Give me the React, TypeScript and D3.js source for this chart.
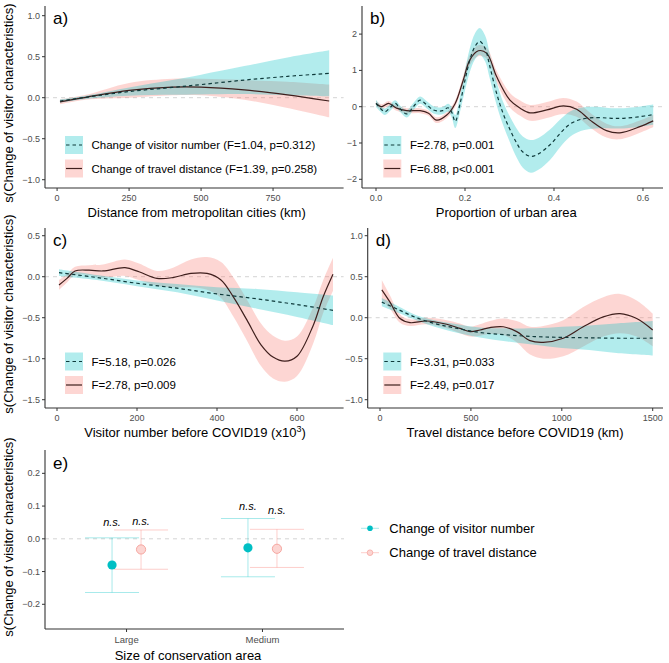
import React from 'react';
import * as d3 from 'd3';

const TEAL = '#00BFC4';
const PINK = '#F8766D';
const TEAL_LINE = '#0f3a3b';
const PINK_LINE = '#3f1f1d';

// ---- panel a: distance from metropolitan cities (km)
const aVisitorX = [10, 100, 250, 400, 500, 650, 800, 945];
const aVisitorFit = [-0.04, 0.005, 0.075, 0.125, 0.16, 0.215, 0.26, 0.297];
const aVisitorSe = [0.02, 0.02, 0.05, 0.09, 0.12, 0.17, 0.23, 0.28];
const aTravelX = [10, 100, 250, 400, 500, 650, 800, 945];
const aTravelFit = [-0.05, 0.005, 0.09, 0.13, 0.13, 0.095, 0.035, -0.04];
const aTravelSe = [0.03, 0.03, 0.09, 0.1, 0.1, 0.12, 0.16, 0.2];

// ---- panel b: proportion of urban area
const bVisitorX = [0.0, 0.01, 0.02, 0.032, 0.043, 0.056, 0.069, 0.084, 0.099, 0.114, 0.129, 0.14, 0.15, 0.162, 0.17, 0.178, 0.189, 0.2, 0.211, 0.222, 0.233, 0.245, 0.256, 0.271, 0.286, 0.3, 0.316, 0.33, 0.348, 0.365, 0.391, 0.415, 0.436, 0.46, 0.496, 0.53, 0.556, 0.59, 0.623];
const bVisitorFit = [0.09, -0.05, -0.14, -0.02, 0.09, -0.08, -0.2, 0.0, 0.18, 0.05, -0.09, -0.12, -0.11, -0.03, -0.15, -0.41, 0.09, 0.73, 1.29, 1.65, 1.8, 1.61, 1.1, 0.37, -0.2, -0.6, -1.0, -1.25, -1.37, -1.3, -1.05, -0.72, -0.48, -0.35, -0.3, -0.32, -0.32, -0.28, -0.22];
const bVisitorSe = [0.1, 0.09, 0.09, 0.09, 0.09, 0.09, 0.1, 0.1, 0.1, 0.1, 0.1, 0.1, 0.1, 0.11, 0.14, 0.18, 0.22, 0.28, 0.33, 0.36, 0.37, 0.36, 0.34, 0.32, 0.32, 0.35, 0.4, 0.43, 0.45, 0.44, 0.42, 0.38, 0.35, 0.32, 0.3, 0.28, 0.28, 0.28, 0.28];
const bTravelX = [0.0, 0.013, 0.028, 0.046, 0.069, 0.099, 0.118, 0.136, 0.159, 0.178, 0.196, 0.211, 0.23, 0.249, 0.271, 0.301, 0.324, 0.346, 0.384, 0.421, 0.451, 0.481, 0.518, 0.548, 0.593, 0.623];
const bTravelFit = [0.09, 0.0, 0.09, -0.04, -0.11, -0.11, -0.18, -0.37, -0.23, 0.09, 0.73, 1.29, 1.54, 1.47, 0.83, 0.18, -0.04, -0.17, -0.09, 0.02, -0.07, -0.37, -0.66, -0.72, -0.55, -0.39];
const bTravelSe = [0.07, 0.07, 0.07, 0.07, 0.07, 0.07, 0.07, 0.08, 0.08, 0.09, 0.12, 0.14, 0.15, 0.15, 0.16, 0.2, 0.21, 0.22, 0.22, 0.22, 0.21, 0.2, 0.19, 0.18, 0.17, 0.17];

// ---- panel c: visitor number before COVID19 (x10^3)
const cVisitorX = [5, 100, 200, 300, 400, 500, 600, 690];
const cVisitorFit = [0.05, -0.01, -0.08, -0.14, -0.21, -0.27, -0.34, -0.41];
const cVisitorSe = [0.04, 0.03, 0.035, 0.05, 0.08, 0.12, 0.15, 0.18];
const cTravelX = [5, 25, 45, 80, 115, 170, 205, 250, 290, 335, 375, 410, 440, 475, 510, 540, 570, 600, 640, 665, 690];
const cTravelFit = [-0.1, -0.02, 0.07, 0.08, 0.07, 0.11, 0.06, -0.02, -0.01, 0.04, 0.04, -0.04, -0.24, -0.53, -0.83, -0.98, -1.03, -0.97, -0.6, -0.25, 0.03];
const cTravelSe = [0.06, 0.05, 0.05, 0.06, 0.08, 0.1, 0.1, 0.09, 0.12, 0.17, 0.2, 0.22, 0.24, 0.25, 0.26, 0.26, 0.25, 0.24, 0.22, 0.2, 0.2];

// ---- panel d: travel distance before COVID19 (km)
const dVisitorX = [10, 100, 200, 300, 400, 550, 700, 850, 1000, 1150, 1300, 1500];
const dVisitorFit = [0.19, 0.1, 0.0, -0.07, -0.12, -0.18, -0.21, -0.23, -0.24, -0.245, -0.25, -0.25];
const dVisitorSe = [0.05, 0.04, 0.03, 0.04, 0.05, 0.06, 0.08, 0.1, 0.13, 0.15, 0.18, 0.21];
const dTravelX = [10, 55, 110, 165, 257, 367, 440, 495, 550, 605, 678, 752, 825, 898, 1008, 1118, 1228, 1320, 1412, 1500];
const dTravelFit = [0.34, 0.19, -0.01, -0.06, -0.04, -0.08, -0.13, -0.17, -0.15, -0.12, -0.11, -0.17, -0.28, -0.3, -0.25, -0.11, 0.01, 0.05, -0.01, -0.15];
const dTravelSe = [0.12, 0.08, 0.05, 0.04, 0.04, 0.05, 0.06, 0.06, 0.07, 0.08, 0.1, 0.13, 0.17, 0.2, 0.22, 0.24, 0.24, 0.24, 0.22, 0.2];

// ---- panel e: size of conservation area
const eCategories = ['Large', 'Medium'];
const eVisitorMean = [-0.08, -0.0275];
const eVisitorLow = [-0.164, -0.116];
const eVisitorHigh = [0.003, 0.062];
const eTravelMean = [-0.0325, -0.0305];
const eTravelLow = [-0.093, -0.0875];
const eTravelHigh = [0.027, 0.029];
const eVisitorNsY = [0.05, 0.1];
const eTravelNsY = [0.055, 0.089];

// ---- ticks and labels
const aXTicks = [0, 250, 500, 750];
const aYTicks = [-1, -0.5, 0, 0.5, 1];
const bXTicks = [0, 0.2, 0.4, 0.6];
const bYTicks = [-2, -1, 0, 1, 2];
const cXTicks = [0, 200, 400, 600];
const cYTicks = [-1.5, -1, -0.5, 0, 0.5];
const dXTicks = [0, 500, 1000, 1500];
const dYTicks = [-1, -0.5, 0, 0.5, 1];
const eYTicks = [-0.2, -0.1, 0, 0.1, 0.2];

const aLegend = ['Change of visitor number (F=1.04, p=0.312)', 'Change of travel distance (F=1.39, p=0.258)'];
const bLegend = ['F=2.78, p=0.001', 'F=6.88, p<0.001'];
const cLegend = ['F=5.18, p=0.026', 'F=2.78, p=0.009'];
const dLegend = ['F=3.31, p=0.033', 'F=2.49, p=0.017'];
const eLegend = ['Change of visitor number', 'Change of travel distance'];

const Y_TITLE = 's(Change of visitor characteristics)';
const FONT = '"Liberation Sans", Arial, Helvetica, sans-serif';
const AXIS = '#333333';
const TICK_TEXT = '#4d4d4d';

type Box = { x0: number; x1: number; y0: number; y1: number };
type Series = { x: number[]; fit: number[]; se: number[]; fill: string; stroke: string; dash?: string };

interface PanelProps {
  box: Box;
  xDomain: [number, number];
  yDomain: [number, number];
  xTicks: number[];
  yTicks: number[];
  xFmt: (v: number) => string;
  yFmt: (v: number) => string;
  series: Series[];
  tag: string;
  xTitle: React.ReactNode;
  xTitleX: number;
  yTitleY?: number;
  legend: string[];
  legendX: number;
  legendY: number;
  legendTextX: number;
}

function YTitle({ cy }: { cy: number }) {
  return (
    <text transform={`translate(12.5,${cy}) rotate(-90)`} textAnchor="middle" fontSize={13} fill="#000">
      {Y_TITLE}
    </text>
  );
}

function Panel(p: PanelProps) {
  const { box } = p;
  const xs = d3.scaleLinear().domain(p.xDomain).range([box.x0, box.x1]);
  const ys = d3.scaleLinear().domain(p.yDomain).range([box.y1, box.y0]);
  const curve = d3.curveCatmullRom.alpha(0.5);

  // ribbons: travel first, visitor on top
  const drawOrder = [1, 0];

  return (
    <g>
      <line x1={box.x0} x2={box.x1} y1={ys(0)} y2={ys(0)} stroke="#d4d4d4" strokeWidth={1} strokeDasharray="4,4" />
      {drawOrder.map((k) => {
        const s = p.series[k];
        const area = d3
          .area<number>()
          .x((_, i) => xs(s.x[i]))
          .y0((d, i) => ys(d - s.se[i]))
          .y1((d, i) => ys(d + s.se[i]))
          .curve(curve);
        return <path key={'r' + k} d={area(s.fit) || ''} fill={s.fill} fillOpacity={0.3} stroke="none" />;
      })}
      {drawOrder.map((k) => {
        const s = p.series[k];
        const line = d3
          .line<number>()
          .x((_, i) => xs(s.x[i]))
          .y((d) => ys(d))
          .curve(curve);
        return (
          <path key={'l' + k} d={line(s.fit) || ''} fill="none" stroke={s.stroke} strokeWidth={1.2} strokeDasharray={s.dash} />
        );
      })}

      {/* axes */}
      <line x1={box.x0} x2={box.x1} y1={box.y1} y2={box.y1} stroke={AXIS} strokeWidth={1.1} />
      <line x1={box.x0} x2={box.x0} y1={box.y0} y2={box.y1} stroke={AXIS} strokeWidth={1.1} />
      {p.xTicks.map((t) => (
        <g key={'xt' + t}>
          <line x1={xs(t)} x2={xs(t)} y1={box.y1} y2={box.y1 + 3} stroke={AXIS} strokeWidth={1} />
          <text x={xs(t)} y={box.y1 + 13} textAnchor="middle" fontSize={9} fill={TICK_TEXT}>
            {p.xFmt(t)}
          </text>
        </g>
      ))}
      {p.yTicks.map((t) => (
        <g key={'yt' + t}>
          <line x1={box.x0 - 3} x2={box.x0} y1={ys(t)} y2={ys(t)} stroke={AXIS} strokeWidth={1} />
          <text x={box.x0 - 5} y={ys(t)} textAnchor="end" dominantBaseline="central" fontSize={9} fill={TICK_TEXT}>
            {p.yFmt(t)}
          </text>
        </g>
      ))}

      <text x={box.x0 + 8} y={box.y0 + 17.5} fontSize={17} fill="#000">
        {p.tag}
      </text>

      <text x={p.xTitleX} y={box.y1 + 29} textAnchor="middle" fontSize={13} fill="#000">
        {p.xTitle}
      </text>
      {p.yTitleY !== undefined && <YTitle cy={p.yTitleY} />}

      {/* legend */}
      {p.legend.map((lab, k) => {
        const s = p.series[k];
        const ky = p.legendY + k * 23.5;
        return (
          <g key={'lg' + k}>
            <rect x={p.legendX} y={ky} width={18} height={18} fill={s.fill} fillOpacity={0.3} />
            <line x1={p.legendX + 1} x2={p.legendX + 17} y1={ky + 9} y2={ky + 9} stroke={s.stroke} strokeWidth={1.2} strokeDasharray={s.dash} />
            <text x={p.legendTextX} y={ky + 9} dominantBaseline="central" fontSize={11.5} fill="#000">
              {lab}
            </text>
          </g>
        );
      })}
    </g>
  );
}

function PanelE() {
  const box: Box = { x0: 45, x1: 344, y0: 450, y1: 629 };
  const xs = d3.scalePoint<string>().domain(eCategories).range([box.x0, box.x1]).padding(0.6);
  const ys = d3.scaleLinear().domain([-0.2755, 0.2713]).range([box.y1, box.y0]);
  const dodge = 14.5;
  const cap = 27;
  const groups = [
    { mean: eVisitorMean, low: eVisitorLow, high: eVisitorHigh, ns: eVisitorNsY, off: -dodge, color: TEAL },
    { mean: eTravelMean, low: eTravelLow, high: eTravelHigh, ns: eTravelNsY, off: dodge, color: PINK },
  ];
  return (
    <g>
      <line x1={box.x0} x2={box.x1} y1={ys(0)} y2={ys(0)} stroke="#d4d4d4" strokeWidth={1} strokeDasharray="4,4" />
      {groups.map((g, gi) =>
        eCategories.map((c, i) => {
          const cx = (xs(c) as number) + g.off;
          return (
            <g key={gi + c}>
              <line x1={cx} x2={cx} y1={ys(g.low[i])} y2={ys(g.high[i])} stroke={g.color} strokeOpacity={0.35} strokeWidth={1} />
              <line x1={cx - cap} x2={cx + cap} y1={ys(g.low[i])} y2={ys(g.low[i])} stroke={g.color} strokeOpacity={0.35} strokeWidth={1} />
              <line x1={cx - cap} x2={cx + cap} y1={ys(g.high[i])} y2={ys(g.high[i])} stroke={g.color} strokeOpacity={0.35} strokeWidth={1} />
              {gi === 0 ? (
                <circle cx={cx} cy={ys(g.mean[i])} r={4.6} fill={TEAL} />
              ) : (
                <circle cx={cx} cy={ys(g.mean[i])} r={4.6} fill="#FCD5D2" stroke="#F6A7A1" strokeWidth={1} />
              )}
              <text x={cx} y={ys(g.ns[i])} textAnchor="middle" dominantBaseline="central" fontSize={11} fontStyle="italic" fill="#000">
                n.s.
              </text>
            </g>
          );
        })
      )}
      <line x1={box.x0} x2={box.x1} y1={box.y1} y2={box.y1} stroke={AXIS} strokeWidth={1.1} />
      <line x1={box.x0} x2={box.x0} y1={box.y0} y2={box.y1} stroke={AXIS} strokeWidth={1.1} />
      {eCategories.map((c) => (
        <g key={'xe' + c}>
          <line x1={xs(c)} x2={xs(c)} y1={box.y1} y2={box.y1 + 3} stroke={AXIS} strokeWidth={1} />
          <text x={xs(c)} y={box.y1 + 14} textAnchor="middle" fontSize={9.5} fill={TICK_TEXT}>
            {c}
          </text>
        </g>
      ))}
      {eYTicks.map((t) => (
        <g key={'ye' + t}>
          <line x1={box.x0 - 3} x2={box.x0} y1={ys(t)} y2={ys(t)} stroke={AXIS} strokeWidth={1} />
          <text x={box.x0 - 5} y={ys(t)} textAnchor="end" dominantBaseline="central" fontSize={9} fill={TICK_TEXT}>
            {d3.format('.1f')(t)}
          </text>
        </g>
      ))}
      <text x={box.x0 + 8} y={box.y0 + 19} fontSize={17} fill="#000">
        e)
      </text>
      <text x={188} y={660} textAnchor="middle" fontSize={13} fill="#000">
        Size of conservation area
      </text>
      <YTitle cy={537} />
      {eLegend.map((lab, k) => {
        const ly = 528.3 + k * 24.4;
        const col = k === 0 ? TEAL : PINK;
        return (
          <g key={'le' + k}>
            <line x1={361} x2={379} y1={ly} y2={ly} stroke={col} strokeOpacity={0.35} strokeWidth={1} />
            {k === 0 ? (
              <circle cx={370} cy={ly} r={2.8} fill={TEAL} />
            ) : (
              <circle cx={370} cy={ly} r={2.8} fill="#FCD5D2" stroke="#F6A7A1" strokeWidth={0.8} />
            )}
            <text x={389.3} y={ly} dominantBaseline="central" fontSize={13} fill="#000">
              {lab}
            </text>
          </g>
        );
      })}
    </g>
  );
}

const f0 = d3.format('d');
const f1 = d3.format('.1f');

export default function App() {
  const mk = (x: number[], fit: number[], se: number[], visitor: boolean): Series => ({
    x,
    fit,
    se,
    fill: visitor ? TEAL : PINK,
    stroke: visitor ? TEAL_LINE : PINK_LINE,
    dash: visitor ? '3.5,3' : undefined,
  });

  return (
    <svg
      width={669}
      height={663}
      style={{ position: 'absolute', left: 0, top: 0, background: '#fff' }}
      fontFamily={FONT}
    >
      <rect width={669} height={663} fill="#fff" />
      <Panel
        box={{ x0: 45, x1: 343.6, y0: 6, y1: 188 }}
        xDomain={[-42, 995]}
        yDomain={[-1.101, 1.118]}
        xTicks={aXTicks}
        yTicks={aYTicks}
        xFmt={f0}
        yFmt={f1}
        series={[mk(aVisitorX, aVisitorFit, aVisitorSe, true), mk(aTravelX, aTravelFit, aTravelSe, false)]}
        tag="a)"
        xTitle="Distance from metropolitan cities (km)"
        xTitleX={196.7}
        yTitleY={103}
        legend={aLegend}
        legendX={65}
        legendY={136}
        legendTextX={91.5}
      />
      <Panel
        box={{ x0: 362, x1: 663, y0: 6, y1: 188 }}
        xDomain={[-0.0315, 0.645]}
        yDomain={[-2.24, 2.774]}
        xTicks={bXTicks}
        yTicks={bYTicks}
        xFmt={f1}
        yFmt={f0}
        series={[mk(bVisitorX, bVisitorFit, bVisitorSe, true), mk(bTravelX, bTravelFit, bTravelSe, false)]}
        tag="b)"
        xTitle="Proportion of urban area"
        xTitleX={506.3}
        legend={bLegend}
        legendX={383.3}
        legendY={136}
        legendTextX={410}
      />
      <Panel
        box={{ x0: 45, x1: 343.6, y0: 228, y1: 408 }}
        xDomain={[-30, 716.5]}
        yDomain={[-1.601, 0.594]}
        xTicks={cXTicks}
        yTicks={cYTicks}
        xFmt={f0}
        yFmt={f1}
        series={[mk(cVisitorX, cVisitorFit, cVisitorSe, true), mk(cTravelX, cTravelFit, cTravelSe, false)]}
        tag="c)"
        xTitle={
          <>
            Visitor number before COVID19 (x10
            <tspan fontSize={9} dy={-5}>
              3
            </tspan>
            <tspan dy={5}>)</tspan>
          </>
        }
        xTitleX={195}
        yTitleY={314}
        legend={cLegend}
        legendX={65}
        legendY={352.5}
        legendTextX={91.5}
      />
      <Panel
        box={{ x0: 367.7, x1: 663, y0: 228, y1: 408 }}
        xDomain={[-67.7, 1556.6]}
        yDomain={[-1.101, 1.094]}
        xTicks={dXTicks}
        yTicks={dYTicks}
        xFmt={f0}
        yFmt={f1}
        series={[mk(dVisitorX, dVisitorFit, dVisitorSe, true), mk(dTravelX, dTravelFit, dTravelSe, false)]}
        tag="d)"
        xTitle="Travel distance before COVID19 (km)"
        xTitleX={515}
        legend={dLegend}
        legendX={383.3}
        legendY={352.5}
        legendTextX={410}
      />
      <PanelE />
    </svg>
  );
}
